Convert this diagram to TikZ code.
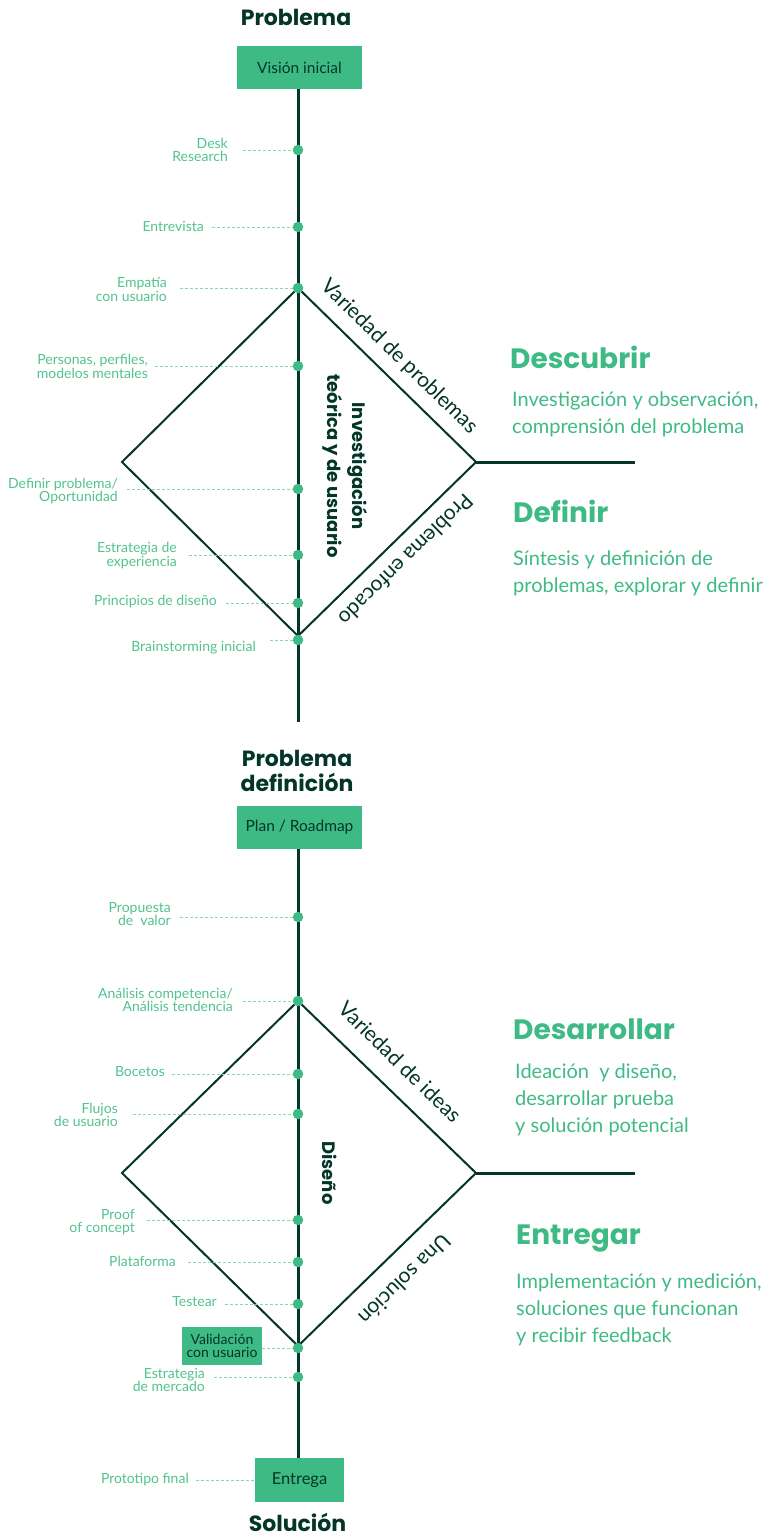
\documentclass[tikz,border=0pt]{standalone}
\usepackage{fontspec}
\setmainfont{Lato}
\newfontfamily\hfont{Poppins}
\definecolor{dark}{HTML}{033628}
\definecolor{grn}{HTML}{3EBA85}
\definecolor{lgrn}{HTML}{52C28F}
\definecolor{dgrn}{HTML}{8AD6B2}
\pgfdeclarelayer{bg}
\pgfsetlayers{bg,main}
\begin{document}
\begin{tikzpicture}[x=1pt,y=-1pt,
  dot/.style={circle, fill=grn, inner sep=0pt, minimum size=10.5pt},
  lab/.style={text=lgrn, font=\fontsize{14}{13.5}\selectfont, align=right, inner sep=0pt, anchor=east},
  dsh/.style={draw=dgrn, dash pattern=on 3pt off 2pt, line width=0.8pt},
  gbox/.style={fill=grn, text=dark, inner sep=0pt, align=center},
  spine/.style={draw=dark, line width=3pt},
  edg/.style={draw=dark, line width=2pt},
  ttl/.style={font=\hfont\bfseries\fontsize{22}{25}\selectfont, text=dark, align=center, inner sep=0pt},
  head/.style={font=\hfont\bfseries\fontsize{28}{32}\selectfont, text=grn, anchor=base west, inner sep=0pt},
  desc/.style={font=\fontsize{20}{27}\selectfont, text=grn, align=left, anchor=base west, inner sep=0pt},
  side/.style={font=\fontsize{21}{24}\selectfont, text=dark, inner sep=0pt},
  vert/.style={font=\hfont\bfseries\fontsize{18}{25}\selectfont, text=dark, align=center, inner sep=0pt, rotate=-90}
]
\useasboundingbox (0,0) rectangle (763,1536);

% ---------- top part ----------
\node[ttl, anchor=base] (t1) at (296,26) {Problema};
\node[gbox, minimum width=125pt, minimum height=43pt, font=\fontsize{15.5}{17}\selectfont] (vis) at (299.5,67.5) {Visión inicial};

\node[dot] (d1) at (298,150) {};
\node[dot] (d2) at (298,227) {};
\node[dot] (d3) at (298,288) {};
\node[dot] (d4) at (298,366) {};
\node[dot] (d5) at (298,489) {};
\node[dot] (d6) at (298,555) {};
\node[dot] (d7) at (298,603) {};
\node[dot] (d8) at (298,640) {};

\coordinate (e1) at (298,722);
\coordinate (L1) at (122,462);
\coordinate (R1) at (476,462);
\coordinate (B1) at (298,636);
\coordinate (H1) at (635,462);

\node[lab] (l1) at (228,150) {Desk\\Research};
\node[lab] (l2) at (204,226) {Entrevista};
\node[lab] (l3) at (167,289.5) {Empatía\\con usuario};
\node[lab] (l4) at (148,366.5) {Personas, perfiles,\\modelos mentales};
\node[lab] (l5) at (118,491) {Definir problema/\\Oportunidad};
\node[lab] (l6) at (177,555.5) {Estrategia de\\experiencia};
\node[lab] (l7) at (217,602) {Principios de diseño};
\node[lab] (l8) at (256,648) {Brainstorming inicial};

\coordinate (c1) at (243,150);
\coordinate (c2) at (212,227);
\coordinate (c3) at (180,288);
\coordinate (c4) at (155,366);
\coordinate (c5) at (127,489);
\coordinate (c6) at (189,555);
\coordinate (c7) at (226,603);
\coordinate (c8) at (270,640);

\node[vert] (inv) at (345.5,466) {Investigación\\teórica y de usuario};
\node[side, rotate=-44.35] (vp) at (399,357) {Variedad de problemas};
\node[side, rotate=-135.65] (pe) at (406,560) {Problema enfocado};

\node[head] (h1) at (510,368) {Descubrir};
\node[desc] (s1) at (512,433) {Investigación y observación,\\comprensión del problema};
\node[head] (h2) at (513,522) {Definir};
\node[desc] (s2) at (513,592) {Síntesis y definición de\\problemas, explorar y definir};

% ---------- bottom part ----------
\node[ttl, anchor=base] (t2) at (297,791) {Problema\\definición};
\node[gbox, minimum width=125pt, minimum height=43pt, font=\fontsize{15.5}{17}\selectfont] (plan) at (299.5,827.5) {Plan / Roadmap};

\node[dot] (f1) at (298,917) {};
\node[dot] (f2) at (298,1001) {};
\node[dot] (f3) at (298,1074) {};
\node[dot] (f4) at (298,1114) {};
\node[dot] (f5) at (298,1220) {};
\node[dot] (f6) at (298,1262) {};
\node[dot] (f7) at (298,1304) {};
\node[dot] (f8) at (298,1348) {};
\node[dot] (f9) at (298,1377) {};

\node[gbox, minimum width=89pt, minimum height=44pt, font=\fontsize{16.5}{18}\selectfont] (ent) at (299.5,1480) {Entrega};
\node[ttl, anchor=base] (t3) at (297.5,1531) {Solución};

\coordinate (L2) at (122,1173);
\coordinate (R2) at (476,1173);
\coordinate (B2) at (298,1346);
\coordinate (H2) at (635,1173);

\node[lab] (m1) at (171,914) {Propuesta\\de\ \ valor};
\node[lab] (m2) at (233,1000) {Análisis competencia/\\Análisis tendencia};
\node[lab] (m3) at (165,1072) {Bocetos};
\node[lab] (m4) at (118,1115) {Flujos\\de usuario};
\node[lab] (m5) at (135,1222) {Proof\\of concept};
\node[lab] (m6) at (176,1261) {Plataforma};
\node[lab] (m7) at (217,1302) {Testear};
\node[gbox, minimum width=80pt, minimum height=38pt, font=\fontsize{14}{13.5}\selectfont] (val) at (222,1346) {Validación\\con usuario};
\node[lab] (m9) at (205,1380) {Estrategia\\de mercado};
\node[lab] (m10) at (189,1480) {Prototipo final};

\coordinate (k1) at (180,917);
\coordinate (k2) at (243,1001);
\coordinate (k3) at (172,1074);
\coordinate (k4) at (133,1114);
\coordinate (k5) at (147,1220);
\coordinate (k6) at (188,1262);
\coordinate (k7) at (225,1304);
\coordinate (k9) at (214,1377);
\coordinate (k10) at (196,1480);

\node[vert] (dis) at (330,1173) {Diseño};
\node[side, rotate=-44.35] (vi) at (400,1062) {Variedad de ideas};
\node[side, rotate=-135.65] (us) at (405,1280) {Una solución};

\node[head] (h3) at (513,1039) {Desarrollar};
\node[desc] (s3) at (515,1132) {Ideación\ \ y diseño,\\desarrollar prueba\\y solución potencial};
\node[head] (h4) at (516,1244) {Entregar};
\node[desc] (s4) at (516,1342) {Implementación y medición,\\soluciones que funcionan\\y recibir feedback};

% ---------- lines ----------
\begin{pgfonlayer}{bg}
  \draw[spine] (vis.south -| e1) -- (e1);
  \draw[edg] (d3.center) -- (L1) -- (B1) -- (R1) -- cycle;
  \draw[spine] (R1) -- (H1);
  \draw[dsh] (c1) -- (d1);
  \draw[dsh] (c2) -- (d2);
  \draw[dsh] (c3) -- (d3);
  \draw[dsh] (c4) -- (d4);
  \draw[dsh] (c5) -- (d5);
  \draw[dsh] (c6) -- (d6);
  \draw[dsh] (c7) -- (d7);
  \draw[dsh] (c8) -- (d8);

  \draw[spine] (plan.south -| f1) -- (ent.north -| f1);
  \draw[edg] (f2.center) -- (L2) -- (B2) -- (R2) -- cycle;
  \draw[spine] (R2) -- (H2);
  \draw[dsh] (k1) -- (f1);
  \draw[dsh] (k2) -- (f2);
  \draw[dsh] (k3) -- (f3);
  \draw[dsh] (k4) -- (f4);
  \draw[dsh] (k5) -- (f5);
  \draw[dsh] (k6) -- (f6);
  \draw[dsh] (k7) -- (f7);
  \draw[dsh] (val.east |- f8) -- (f8);
  \draw[dsh] (k9) -- (f9);
  \draw[dsh] (k10) -- (ent.west);
\end{pgfonlayer}
\end{tikzpicture}
\end{document}
